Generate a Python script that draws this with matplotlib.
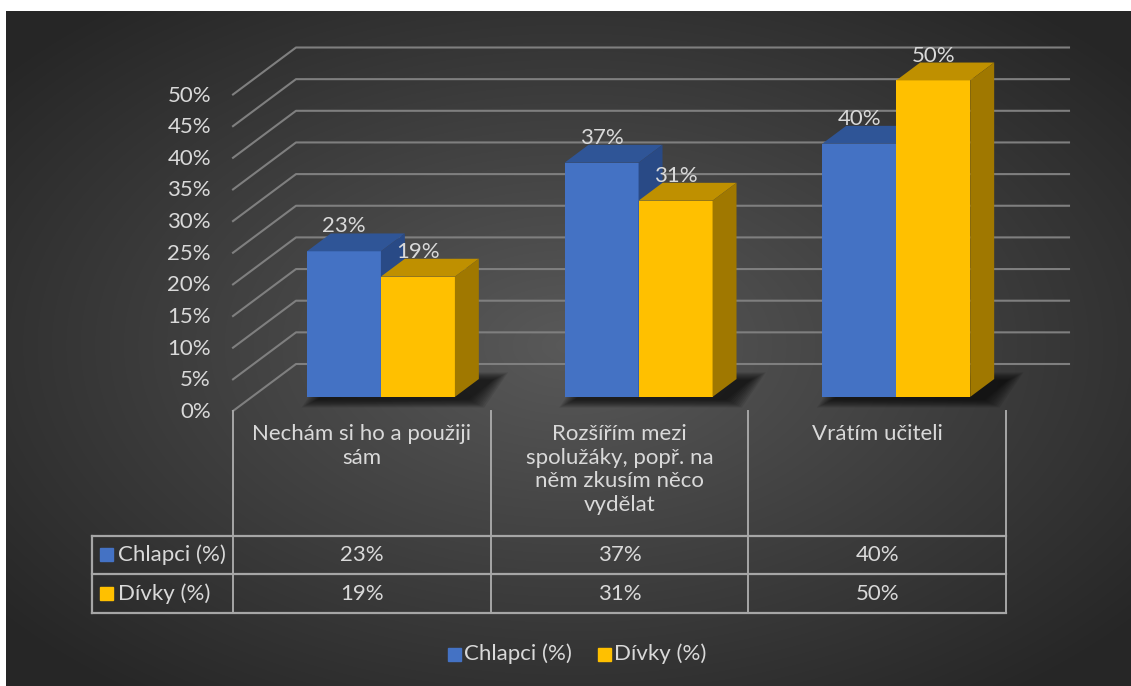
import numpy as np
import matplotlib.pyplot as plt
from matplotlib.patches import Polygon, Rectangle

plt.rcParams['font.family'] = ['Lato', 'DejaVu Sans']

categories = ['Nechám si ho a použiji\nsám',
              'Rozšířím mezi\nspolužáky, popř. na\nněm zkusím něco\nvydělat',
              'Vrátím učiteli']
series_names = ['Chlapci (%)', 'Dívky (%)']
chlapci = [23, 37, 40]
divky = [19, 31, 50]
y_ticks = [0, 5, 10, 15, 20, 25, 30, 35, 40, 45, 50]

front_col = ['#4472C4', '#FFC000']
top_col = ['#2F5597', '#BF9000']
side_col = ['#294A86', '#A07800']
txt = '#D9D9D9'
grid = '#7F7F7F'
tab = '#A6A6A6'
fs = 16

W, H = 1131, 686
fig = plt.figure(figsize=(W / 100, H / 100), dpi=100, facecolor='white')
ax = fig.add_axes([0, 0, 1, 1])

# radial background
yy, xx = np.mgrid[11:H, 6:W]
r = np.sqrt(((xx - 570) / 565) ** 2 + ((yy - 345) / 340) ** 2)
g = (0x59 - (0x59 - 0x26) * np.clip(r / 1.3, 0, 1)) / 255
ax.imshow(np.dstack([g, g, g]), extent=(6, W, H, 11), zorder=0, interpolation='bilinear')
ax.set_xlim(0, W)
ax.set_ylim(H, 0)
ax.set_aspect('auto')
ax.axis('off')

# oblique 3d projection (pixels)
fx0, fx1, fy0 = 233, 1006, 411
ddx, ddy = 63, -47
k = 6.33


def P(x, v, d):
    return (x + d * ddx, fy0 - v * k + d * ddy)


# gridlines on side + back wall
for v in y_ticks:
    a, b = P(fx0, v, 0), P(fx0, v, 1)
    c = P(fx1, v, 1)
    ax.plot([a[0], b[0], c[0]], [a[1], b[1], c[1]], color=grid, lw=1.5, zorder=1)
    ax.text(211, a[1] + 1, f'{v}%', ha='right', va='center', color=txt, fontsize=fs)

cw = (fx1 - fx0) / 3
bw, gap = 74, 55
d0, bd = 0.30, 0.38
series = [chlapci, divky]

for i in range(len(categories)):
    gx0 = fx0 + i * cw + gap
    gx1 = gx0 + 2 * bw
    # soft shadow on floor
    for e in range(10):
        s = 2 + e * 1.7
        pts = [P(gx0 - s + 12, 0, d0), P(gx1 + s + 12, 0, d0),
               P(gx1 + s + 12, 0, d0 + bd), P(gx0 - s + 12, 0, d0 + bd)]
        pts = [(p[0], p[1] + (1 if j < 2 else -1) * s * 0.5 + 2) for j, p in enumerate(pts)]
        ax.add_patch(Polygon(pts, closed=True, color='black', alpha=0.09, lw=0, zorder=2))
    for j, vals in enumerate(series):
        v = vals[i]
        xl = gx0 + j * bw
        xr = xl + bw
        front = [P(xl, 0, d0), P(xr, 0, d0), P(xr, v, d0), P(xl, v, d0)]
        top = [P(xl, v, d0), P(xr, v, d0), P(xr, v, d0 + bd), P(xl, v, d0 + bd)]
        side = [P(xr, 0, d0), P(xr, 0, d0 + bd), P(xr, v, d0 + bd), P(xr, v, d0)]
        z = 3 + i * 2 + j
        ax.add_patch(Polygon(front, closed=True, fc=front_col[j], ec='none', zorder=z))
        ax.add_patch(Polygon(top, closed=True, fc=top_col[j], ec='none', zorder=z))
        ax.add_patch(Polygon(side, closed=True, fc=side_col[j], ec='none', zorder=z))
        lx = P((xl + xr) / 2, v, d0)[0]
        ly = P((xl + xr) / 2, v, d0 + bd)[1]
        ax.text(lx, ly - 7, f'{v}%', ha='center', va='center',
                color=txt, fontsize=fs, zorder=20)

# category labels
for i, cat in enumerate(categories):
    ax.text(fx0 + (i + 0.5) * cw, 424, cat, ha='center', va='top', color=txt,
            fontsize=fs, linespacing=1.22)

# data table
row_y = [536, 574, 613]
tx0 = 92
for y in row_y:
    ax.plot([tx0, fx1], [y, y], color=tab, lw=1.6, zorder=2)
ax.plot([tx0, tx0], [row_y[0], row_y[-1]], color=tab, lw=1.6, zorder=2)
for i in range(len(categories) + 1):
    x = fx0 + i * cw
    ax.plot([x, x], [fy0, row_y[-1]], color=tab, lw=1.4, zorder=2)
for j, vals in enumerate(series):
    yc = (row_y[j] + row_y[j + 1]) / 2
    ax.add_patch(Rectangle((100, yc - 7), 13, 13, color=front_col[j], zorder=3))
    ax.text(118, yc, series_names[j], ha='left', va='center', color=txt, fontsize=fs)
    for i, v in enumerate(vals):
        ax.text(fx0 + (i + 0.5) * cw, yc, f'{v}%', ha='center', va='center',
                color=txt, fontsize=fs)

# legend
for j, lx in enumerate([448, 598]):
    ax.add_patch(Rectangle((lx, 648), 13, 13, color=front_col[j], zorder=3))
    ax.text(lx + 16, 654, series_names[j], ha='left', va='center', color=txt, fontsize=fs)

fig.savefig('out.png', dpi=100, facecolor='white')
